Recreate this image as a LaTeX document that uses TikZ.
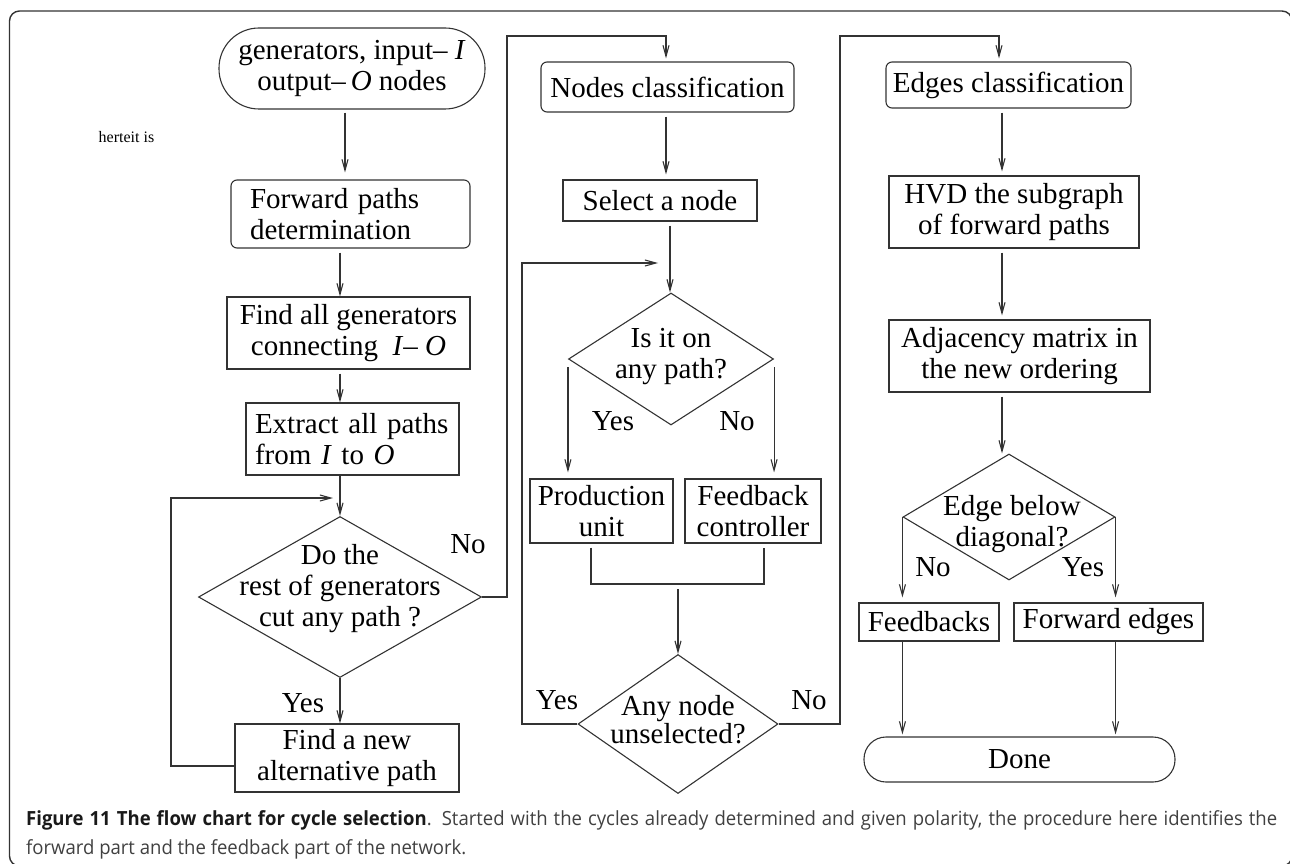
\documentclass[tikz,border=0pt]{standalone}
\usepackage{fontspec}
\setmainfont{Liberation Serif}
\newfontfamily\capfont[FakeStretch=0.95]{Open Sans}
\usetikzlibrary{arrows.meta,shapes.geometric,calc}
\begin{document}
\begin{tikzpicture}[x=1pt,y=-1pt,
  font=\fontsize{29}{31}\selectfont,
  box/.style={draw=black!80, line width=1.1pt, rectangle, inner sep=0pt, align=center},
  rbox/.style={box, rounded corners=6pt},
  dia/.style={draw=black!80, line width=1.1pt, diamond, inner sep=0pt},
  lab/.style={inner sep=0pt},
  conn/.style={draw=black!80, line width=1.1pt},
  arr/.style={conn, -{Straight Barb[length=11pt,width=6pt]}}
]
\useasboundingbox (0,0) rectangle (1290,864);
\clip (0,0) rectangle (1290,864);
% frame
\draw[draw=black!80, line width=1.4pt, rounded corners=10pt] (9.5,11) rectangle (1292,866);

\node[lab, font=\fontsize{16}{18}\selectfont] (note) at (126.5,137) {herteit is};

% column 1
\node[box, rounded corners=40pt, minimum width=266pt, minimum height=81pt] (start) at (352,68.5)
  {generators, input– \textit{I}\\ output–\,\textit{O} nodes};
\node[rbox, minimum width=239pt, minimum height=68pt, text width=201pt, align=left] (fwd) at (350.5,214)
  {Forward paths\\determination};
\node[box, minimum width=243pt, minimum height=72pt] (fag) at (348.5,333)
  {Find all generators\\connecting\ \ \textit{I}– \textit{O}};
\node[box, minimum width=213pt, minimum height=72pt, text width=195pt, align=left] (ext) at (352.5,439)
  {Extract all paths\\from\ \textit{I}\ to\ \textit{O}};
\node[dia, minimum width=283pt, minimum height=161pt,
  label={[align=center, yshift=8pt]center:Do the\\rest of generators\\cut any path ?}] (d1) at (340,597) {};
\node[box, minimum width=224pt, minimum height=68pt] (fn) at (347,758)
  {Find a new\\alternative path};
\node[lab] (no1) at (468,544) {No};
\node[lab] (yes1) at (303,703) {Yes};

% column 2
\node[rbox, minimum width=253pt, minimum height=50pt] (nc) at (667.5,87) {Nodes classification};
\node[box, minimum width=194pt, minimum height=41pt] (sel) at (660,200.5) {Select a node};
\node[dia, minimum width=205pt, minimum height=132pt,
  label={[align=center, yshift=2pt]center:Is it on\\any path?}] (d2) at (671,359) {};
\node[lab] (yes2) at (613,421) {Yes};
\node[lab] (no2) at (737,421) {No};
\node[box, minimum width=143pt, minimum height=64pt] (prod) at (601.5,511) {Production\\unit};
\node[box, minimum width=136pt, minimum height=64pt] (fb) at (753,511) {Feedback\\controller};
\node[dia, minimum width=200pt, minimum height=139pt,
  label={[align=center, yshift=4pt]center:Any node\\[-3pt]unselected?}] (d3) at (678,724) {};
\node[lab] (yes3) at (557,700) {Yes};
\node[lab] (no3) at (809,700) {No};

% column 3
\node[rbox, minimum width=245pt, minimum height=46pt] (ec) at (1008.5,85) {Edges classification};
\node[box, minimum width=250pt, minimum height=72pt] (hvd) at (1014,212) {HVD the subgraph\\of forward paths};
\node[box, minimum width=261pt, minimum height=72pt] (adj) at (1019.5,356) {Adjacency matrix in\\the new ordering};
\node[dia, minimum width=212pt, minimum height=126pt,
  label={[align=center, yshift=-7pt, xshift=3pt]center:Edge below\\diagonal?}] (d4) at (1009,517) {};
\node[lab] (no4) at (933,567) {No};
\node[lab] (yes4) at (1083,567) {Yes};
\node[box, minimum width=140pt, minimum height=38pt] (fbk) at (929,622) {Feedbacks};
\node[box, minimum width=189pt, minimum height=38pt] (fwe) at (1108.5,622) {Forward edges};
\node[box, rounded corners=22pt, minimum width=311pt, minimum height=45pt] (done) at (1019.5,759.5) {Done};

% column coordinates
\coordinate (c1a) at (345,0);
\coordinate (c1) at (340,0);
\coordinate (c2a) at (666,0);
\coordinate (c2) at (670,0);
\coordinate (c3) at (1002,0);
\coordinate (c3e) at (999,0);
\coordinate (L1a) at (171,498);
\coordinate (L1e) at (333,498);
\coordinate (L2a) at (522,263);
\coordinate (L2e) at (658,263);
\coordinate (N1a) at (507,36);
\coordinate (N2a) at (840,36);
\coordinate (m) at (678,584);

% connectors column 1
\draw[arr, shorten <=3pt, shorten >=7pt] (start.south -| c1a) -- (fwd.north -| c1a);
\draw[arr, shorten <=4pt] (fwd.south -| c1) -- (fag.north -| c1);
\draw[arr, shorten <=4pt] (fag.south -| c1) -- (ext.north -| c1);
\draw[arr] (ext.south -| c1) -- (d1.north -| c1);
\draw[arr] (d1.south -| c1) -- (fn.north -| c1);
\draw[arr] ([yshift=-8pt]fn.west) -| (L1a) -- (L1e);
\draw[arr, shorten >=3pt] (d1.east) -| (N1a) -| (nc.north -| c2a);

% column 2
\draw[arr, shorten <=4pt, shorten >=5pt] (nc.south -| c2a) -- (sel.north -| c2a);
\draw[arr, shorten <=4pt] (sel.south -| c2) -- (d2.north -| c2);
\draw[arr] (d3.west) -| (L2a) -- (L2e);
\draw[arr, shorten <=8pt, shorten >=6pt] (d2.west) -- (d2.west |- prod.north);
\draw[arr, shorten <=8pt, shorten >=6pt] (d2.east) -- (d2.east |- fb.north);
\draw[conn] ([xshift=-10.5pt,yshift=-4pt]prod.south) |- (m) -| ([xshift=11pt,yshift=-4pt]fb.south);
\draw[arr, shorten <=5pt] (m) -- (d3.north);
\draw[arr, shorten >=3pt] (d3.east) -| (N2a) -| (ec.north -| c3e);

% column 3
\draw[arr, shorten <=4pt, shorten >=4pt] (ec.south -| c3) -- (hvd.north -| c3);
\draw[arr, shorten <=4pt, shorten >=4pt] (hvd.south -| c3) -- (adj.north -| c3);
\draw[arr, shorten <=4pt] (adj.south -| c3) -- (d4.north -| c3);
\draw[arr, shorten >=5pt] (d4.west) -- (d4.west |- fbk.north);
\draw[arr, shorten >=5pt] (d4.east) -- (d4.east |- fwe.north);
\draw[arr, shorten >=2pt] (d4.west |- fbk.south) -- (d4.west |- done.north);
\draw[arr, shorten >=2pt] (d4.east |- fwe.south) -- (d4.east |- done.north);

% caption
\node[anchor=north west, inner sep=0pt, text width=1251pt, align=justify,
  font=\capfont\fontsize{19.5}{29}\selectfont, text=black!75] (cap) at (26,810)
  {\textbf{\color{black!90}Figure 11 The flow chart for cycle selection}. Started with the cycles already determined and given polarity, the procedure here identifies the\linebreak forward part and the feedback part of the network.};
\end{tikzpicture}
\end{document}
